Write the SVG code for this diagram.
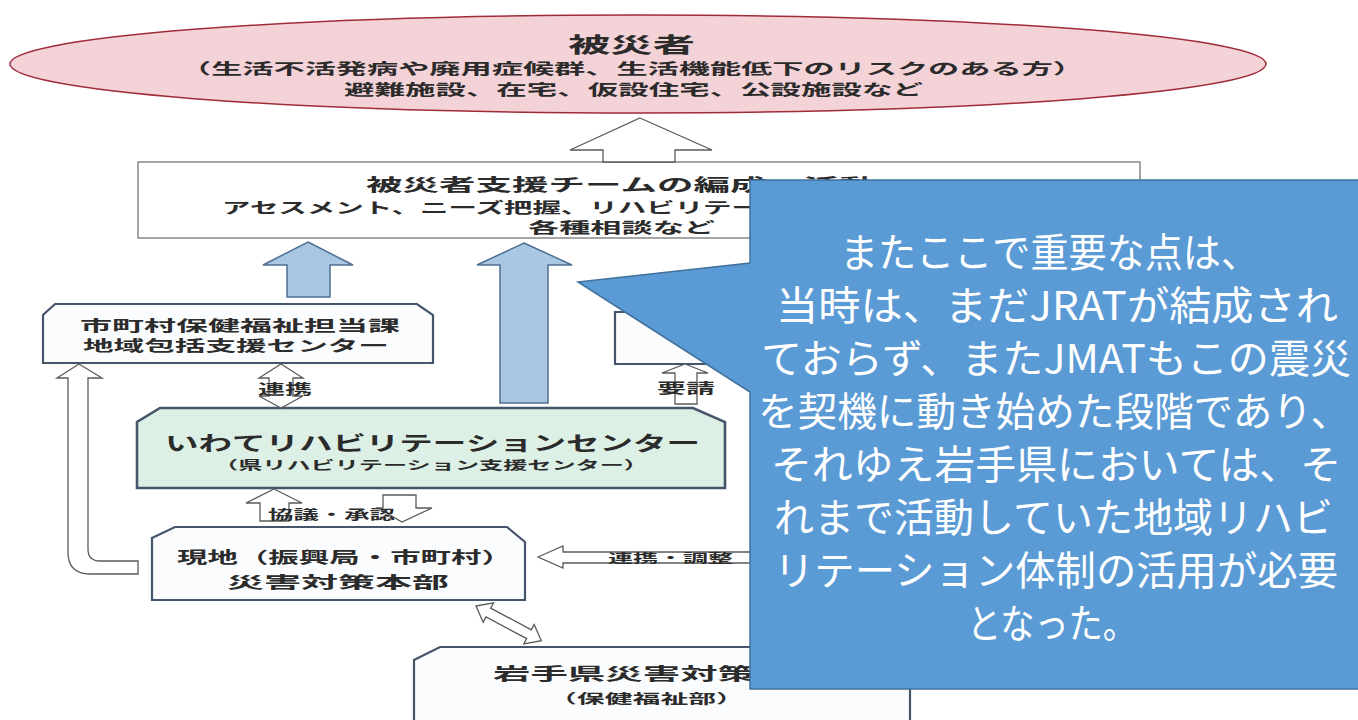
<svg xmlns="http://www.w3.org/2000/svg" width="1358" height="720" viewBox="0 0 1358 720">
<style>
.t { font-family: "Noto Sans CJK JP", "Noto Sans CJK SC", sans-serif; font-weight: 700; fill: #2b2b2b; }
.box { fill: #fbfcfd; stroke: #46566a; stroke-width: 2.2; stroke-linejoin: miter; }
.hollow { fill: #ffffff; stroke: #5a5a5a; stroke-width: 1.3; stroke-linejoin: miter; }
.blue { fill: #a9c7e3; stroke: #4d6f92; stroke-width: 1.5; }
.ct { font-family: "Noto Sans CJK JP", "Noto Sans CJK SC", sans-serif; font-weight: 400; fill: #ffffff; font-size: 40px; }
</style>
<rect width="1358" height="720" fill="#ffffff"/>

<g id="victims">
<ellipse cx="638" cy="64" rx="628" ry="49" fill="#f4d3d8" stroke="#a02c3a" stroke-width="1.5"/>
<text class="t" x="568" y="52" font-size="21" textLength="127" lengthAdjust="spacingAndGlyphs">被災者</text>
<text class="t" x="180" y="74" font-size="15" textLength="904" lengthAdjust="spacingAndGlyphs">（生活不活発病や廃用症候群、生活機能低下のリスクのある方）</text>
<text class="t" x="344" y="95" font-size="15" textLength="579" lengthAdjust="spacingAndGlyphs">避難施設、在宅、仮設住宅、公設施設など</text>
</g>

<g id="team">
<rect x="138" y="162" width="1002" height="76" fill="#ffffff" stroke="#6a6a6a" stroke-width="1.2"/>
<text class="t" x="366" y="191" font-size="17" textLength="510" lengthAdjust="spacingAndGlyphs">被災者支援チームの編成・活動</text>
<text class="t" x="222" y="213" font-size="15" textLength="538" lengthAdjust="spacingAndGlyphs">アセスメント、ニーズ把握、リハビリテー</text>
<text class="t" x="528" y="233" font-size="15" textLength="187" lengthAdjust="spacingAndGlyphs">各種相談など</text>
</g>

<g id="municipal">
<path class="box" d="M 43 363 L 43 315 L 55 304 L 417 304 L 433 315 L 433 363 Z"/>
<text class="t" x="80" y="331" font-size="15" textLength="320" lengthAdjust="spacingAndGlyphs">市町村保健福祉担当課</text>
<text class="t" x="83" y="351" font-size="15" textLength="306" lengthAdjust="spacingAndGlyphs">地域包括支援センター</text>
</g>

<g id="right-box">
<path class="box" d="M 615 364 L 615 312 L 1000 312 L 1000 364 Z"/>
</g>

<g id="iwate-rehab">
<path class="box" d="M 137 488 L 137 422 L 160 408 L 693 408 L 725 422 L 725 488 Z" style="fill:#ddf0e5;stroke-width:2.6"/>
<text class="t" x="165" y="451" font-size="20" textLength="535" lengthAdjust="spacingAndGlyphs">いわてリハビリテーションセンター</text>
<text class="t" x="214" y="470" font-size="12" textLength="434" lengthAdjust="spacingAndGlyphs">（県リハビリテーション支援センター）</text>
</g>

<g id="local-hq">
<path class="box" d="M 152 600 L 152 538 L 175 527 L 507 527 L 525 542 L 525 600 Z"/>
<text class="t" x="177" y="563" font-size="16" textLength="335" lengthAdjust="spacingAndGlyphs">現地（振興局・市町村）</text>
<text class="t" x="227" y="588" font-size="16" textLength="222" lengthAdjust="spacingAndGlyphs">災害対策本部</text>
</g>

<g id="pref-hq">
<path class="box" d="M 414 725 L 414 660 L 440 647 L 885 647 L 910 662 L 910 725"/>
<text class="t" x="493" y="680" font-size="17" textLength="262" lengthAdjust="spacingAndGlyphs">岩手県災害対策</text>
<text class="t" x="549" y="703" font-size="13" textLength="195" lengthAdjust="spacingAndGlyphs">（保健福祉部）</text>
</g>

<g id="connectors">
<path class="hollow" d="M 640 118 L 712 150 L 675 150 L 675 162 L 603 162 L 603 150 L 570 150 Z"/>
<path class="blue" d="M 308 242 L 353 265 L 330 265 L 330 297 L 287 297 L 287 265 L 263 265 Z"/>
<path class="blue" d="M 524 243 L 572 265 L 548 265 L 548 403 L 500 403 L 500 265 L 477 265 Z"/>
<path class="hollow" d="M 281 364 L 303 378 L 293 378 L 293 396 L 303 396 L 281 408 L 259 396 L 269 396 L 269 378 L 259 378 Z"/>
<path class="hollow" d="M 685 364 L 708 373 L 697 373 L 697 404 L 675 404 L 675 373 L 662 373 Z"/>
<path class="hollow" d="M 274 489 L 302 503 L 289 503 L 289 521 L 260 521 L 260 503 L 246 503 Z"/>
<path class="hollow" d="M 383 495 L 416 495 L 416 508 L 432 508 L 402 522 L 378 508 L 383 508 Z"/>
<path class="hollow" d="M 79 364 L 102 378 L 88 378 L 88 549 Q 88 561 100 561 L 138 561 L 138 574 L 90 574 Q 68 574 68 552 L 68 378 L 57 378 Z"/>
<path class="hollow" d="M 538 557 L 563 546 L 563 552 L 752 552 L 752 563 L 563 563 L 563 568 Z"/>
<path class="hollow" transform="translate(476 606) rotate(28)" d="M 0 0 L 14 -11 L 14 -5 L 60 -5 L 60 -11 L 74 0 L 60 11 L 60 5 L 14 5 L 14 11 Z"/>
<text class="t" x="258" y="394" font-size="14" textLength="54" lengthAdjust="spacingAndGlyphs">連携</text>
<text class="t" x="657" y="393" font-size="14" textLength="58" lengthAdjust="spacingAndGlyphs">要請</text>
<text class="t" x="268" y="519" font-size="13" textLength="127" lengthAdjust="spacingAndGlyphs">協議・承認</text>
<text class="t" x="608" y="563" font-size="12" textLength="125" lengthAdjust="spacingAndGlyphs">連携・調整</text>
</g>

<g id="callout">
<path d="M 750 180 L 1362 180 L 1362 689 L 750 689 L 750 392 L 578 282 L 750 263 Z" fill="#5b9bd5" stroke="#41719c" stroke-width="1.5"/>
<text class="ct" x="840" y="267" textLength="419" lengthAdjust="spacingAndGlyphs">またここで重要な点は、</text>
<text class="ct" x="776" y="320" textLength="562" lengthAdjust="spacingAndGlyphs">当時は、まだJRATが結成され</text>
<text class="ct" x="761" y="373" textLength="590" lengthAdjust="spacingAndGlyphs">ておらず、またJMATもこの震災</text>
<text class="ct" x="758" y="426" textLength="592" lengthAdjust="spacingAndGlyphs">を契機に動き始めた段階であり、</text>
<text class="ct" x="771" y="479" textLength="570" lengthAdjust="spacingAndGlyphs">それゆえ岩手県においては、そ</text>
<text class="ct" x="774" y="532" textLength="559" lengthAdjust="spacingAndGlyphs">れまで活動していた地域リハビ</text>
<text class="ct" x="774" y="585" textLength="564" lengthAdjust="spacingAndGlyphs">リテーション体制の活用が必要</text>
<text class="ct" x="967" y="638" textLength="170" lengthAdjust="spacingAndGlyphs">となった。</text>
</g>
</svg>
